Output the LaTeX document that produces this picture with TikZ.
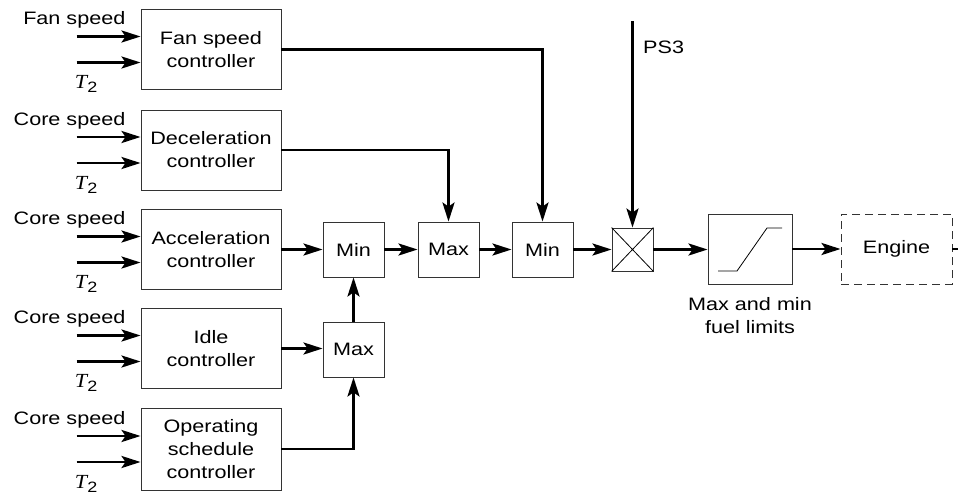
\documentclass[tikz,border=0pt]{standalone}
\usepackage{fontspec}
\setmainfont{Liberation Sans}[FakeStretch=1.2]
\newfontfamily\tserif{Liberation Serif}[FakeStretch=1.1]
\newcommand\Ttwo{{\fontsize{20}{23}\tserif\itshape T}\kern0.5pt\raisebox{-4pt}{\fontsize{15}{15}\selectfont 2}}
\usetikzlibrary{arrows.meta}
\begin{document}
\begin{tikzpicture}[x=1pt,y=-1pt,
  font=\fontsize{18}{23}\selectfont,
  box/.style={draw=black!80, line width=0.9pt, align=center, inner sep=0pt},
  ctrl/.style={box, minimum width=140pt, minimum height=80pt},
  opbox/.style={box, minimum width=61pt, minimum height=55pt},
  sig/.style={line width=2.8pt, -{Stealth[length=19pt,width=12pt,inset=4pt]}},
  wire/.style={line width=2.8pt}
]
\useasboundingbox (0,0) rectangle (958,493);

\node[ctrl] (fan) at (211,49.5) {Fan speed\\controller};
\node[ctrl] (dec) at (211,150) {Deceleration\\controller};
\node[ctrl] (acc) at (211,249.5) {Acceleration\\controller};
\node[ctrl] (idle) at (211,348.5) {Idle\\controller};
\node[ctrl,minimum height=82pt] (ops) at (211,449) {Operating\\schedule\\controller};

\foreach \n/\l in {fan/Fan speed, dec/Core speed, acc/Core speed, idle/Core speed, ops/Core speed} {
  \coordinate (\n-in1) at ([yshift=13pt]\n.west);
  \coordinate (\n-in2) at ([yshift=-13pt]\n.west);
  \coordinate (\n-s1) at ([xshift=-64pt]\n-in1);
  \coordinate (\n-s2) at ([xshift=-64pt]\n-in2);
  \draw[sig] (\n-s1) -- (\n-in1);
  \draw[sig] (\n-s2) -- (\n-in2);
  \node[anchor=base east, inner sep=0pt] (\n-lab) at ([xshift=-15pt, yshift=12pt]\n-in1) {\l};
  \node[anchor=base west, inner sep=0pt] (\n-t) at ([xshift=-66pt,yshift=-26pt]\n-in2) {\Ttwo};
}

\node[opbox] (min1) at (353.5,249.5) {Min};
\node[opbox] (max1) at (448.5,249.5) {Max};
\node[opbox] (min2) at (542.5,249.5) {Min};
\node[opbox] (max2) at (353.5,349.5) {Max};
\node[box, minimum width=41pt, minimum height=43pt] (mul) at (632.5,249.5) {};
\draw[line width=0.8pt] (mul.north west) -- (mul.south east) (mul.north east) -- (mul.south west);
\node[box, minimum width=84pt, minimum height=70pt] (sat) at (750,249) {};
\draw[line width=0.8pt] ([shift={(-32pt,-22pt)}]sat.center) -- ([shift={(-13pt,-22pt)}]sat.center)
  -- ([shift={(17pt,21pt)}]sat.center) -- ([shift={(32pt,21pt)}]sat.center);
\node[box, dash pattern=on 8pt off 5pt, minimum width=111pt, minimum height=70pt] (eng) at (896.5,249) {Engine};
\node[align=center, anchor=north, inner sep=0pt] (lim) at (750,297) {Max and min\\fuel limits};

\draw[sig] (acc.east) -- (min1.west);
\draw[sig] (min1) -- (max1);
\draw[sig] (max1) -- (min2);
\draw[sig] (min2) -- (mul);
\draw[sig] (mul) -- (mul -| sat.west);
\draw[sig] (sat.east) -- (eng.west);
\coordinate (out) at (958,249);
\draw[wire] (eng.east) -- (out);
\draw[sig] (idle.east) -- (idle.east -| max2.west);
\draw[sig] (ops.east) -| (max2.south);
\draw[sig] (max2) -- (min1);
\draw[sig] (fan.east) -| (min2.north);
\draw[sig] (dec.east) -| (max1.north);
\coordinate (ps) at (632.5,21);
\draw[sig] (ps) -- (mul.north);
\node[anchor=base west, inner sep=0pt] (pslab) at (643,53) {PS3};
\end{tikzpicture}
\end{document}
